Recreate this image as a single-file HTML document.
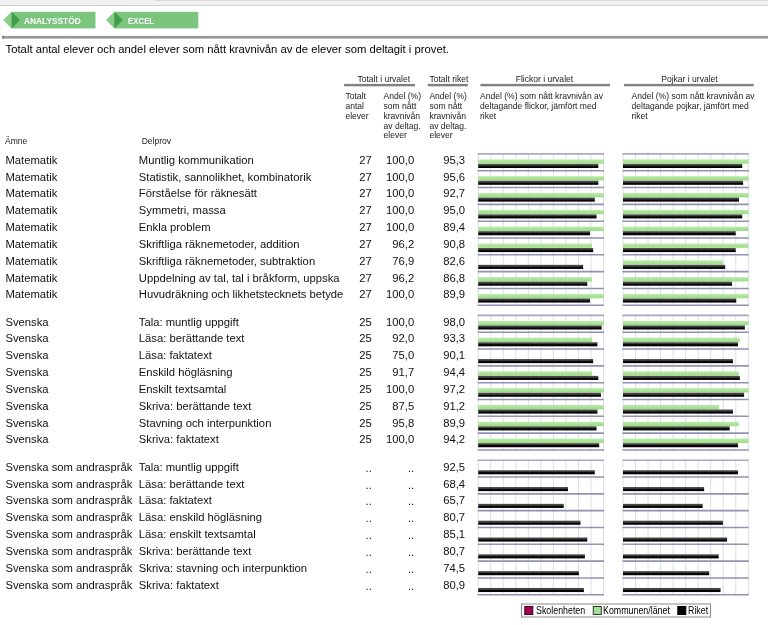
<!DOCTYPE html>
<html lang="sv"><head><meta charset="utf-8"><title>Totalt antal elever</title>
<style>
html,body{margin:0;padding:0;background:#fff;}
body{width:768px;height:625px;position:relative;overflow:hidden;font-family:"Liberation Sans",Arial,sans-serif;color:#000;}
.a{position:absolute;white-space:nowrap;}
.t{font-size:11.25px;line-height:12px;color:#111;}
.r{text-align:right;}
.h{font-size:8.55px;line-height:10px;color:#222;}
.hc{text-align:center;}
.ul{position:absolute;height:2.3px;background:#7f7f7f;top:84px;}
.btn{font-weight:bold;font-size:9.1px;color:#fff;line-height:10px;transform:scaleX(0.87);transform-origin:0 0;}
.lg{font-size:10px;line-height:11px;color:#000;transform:scaleX(0.885);transform-origin:0 0;}
svg{position:absolute;left:0;top:0;}
</style></head><body>

<div class="a" style="left:0;top:0;width:768px;height:5px;background:#f1f1f1;border-bottom:1px solid #d2d2d2"></div>
<div class="a" style="left:155px;top:0;width:613px;height:1px;background:#d9d9d9"></div>
<svg width="768" height="625" viewBox="0 0 768 625">
<defs><linearGradient id="bk" x1="0" y1="0" x2="0" y2="1"><stop offset="0" stop-color="#545454"/><stop offset="0.45" stop-color="#343434"/><stop offset="0.55" stop-color="#0a0a0a"/><stop offset="1" stop-color="#000"/></linearGradient>
<linearGradient id="gr" x1="0" y1="0" x2="0" y2="1"><stop offset="0" stop-color="#b9ebaa"/><stop offset="1" stop-color="#9bdc84"/></linearGradient></defs>
<rect x="2.3" y="35.9" width="766" height="2.7" fill="#999"/>
<rect x="2.3" y="35.9" width="1.8" height="2.7" fill="#7c7c7c"/>
<rect x="344.1" y="83.9" width="70.9" height="2.4" fill="#808080"/>
<rect x="427.7" y="83.9" width="40.1" height="2.4" fill="#808080"/>
<rect x="480.4" y="83.9" width="129.6" height="2.4" fill="#808080"/>
<rect x="623.9" y="83.9" width="129.8" height="2.4" fill="#808080"/>
<polygon points="3.2,20.1 11.5,11.8 11.5,28.4" fill="#8acd8b"/>
<rect x="11.5" y="11.8" width="84.0" height="16.6" fill="#7cc57e"/>
<polygon points="11.5,11.8 20.0,20.1 11.5,28.4" fill="#3f9d4c"/>
<polygon points="106.0,20.1 114.3,11.8 114.3,28.4" fill="#8acd8b"/>
<rect x="114.3" y="11.8" width="84.0" height="16.6" fill="#7cc57e"/>
<polygon points="114.3,11.8 122.8,20.1 114.3,28.4" fill="#3f9d4c"/>
<line x1="478.20" y1="153.90" x2="478.20" y2="305.28" stroke="#dedeea" stroke-width="1"/>
<line x1="490.73" y1="153.90" x2="490.73" y2="305.28" stroke="#dedeea" stroke-width="1"/>
<line x1="503.26" y1="153.90" x2="503.26" y2="305.28" stroke="#dedeea" stroke-width="1"/>
<line x1="515.79" y1="153.90" x2="515.79" y2="305.28" stroke="#dedeea" stroke-width="1"/>
<line x1="528.32" y1="153.90" x2="528.32" y2="305.28" stroke="#dedeea" stroke-width="1"/>
<line x1="540.85" y1="153.90" x2="540.85" y2="305.28" stroke="#dedeea" stroke-width="1"/>
<line x1="553.38" y1="153.90" x2="553.38" y2="305.28" stroke="#dedeea" stroke-width="1"/>
<line x1="565.91" y1="153.90" x2="565.91" y2="305.28" stroke="#dedeea" stroke-width="1"/>
<line x1="578.44" y1="153.90" x2="578.44" y2="305.28" stroke="#dedeea" stroke-width="1"/>
<line x1="590.97" y1="153.90" x2="590.97" y2="305.28" stroke="#dedeea" stroke-width="1"/>
<line x1="603.50" y1="153.90" x2="603.50" y2="305.28" stroke="#dedeea" stroke-width="1"/>
<line x1="623.00" y1="153.90" x2="623.00" y2="305.28" stroke="#dedeea" stroke-width="1"/>
<line x1="635.53" y1="153.90" x2="635.53" y2="305.28" stroke="#dedeea" stroke-width="1"/>
<line x1="648.06" y1="153.90" x2="648.06" y2="305.28" stroke="#dedeea" stroke-width="1"/>
<line x1="660.59" y1="153.90" x2="660.59" y2="305.28" stroke="#dedeea" stroke-width="1"/>
<line x1="673.12" y1="153.90" x2="673.12" y2="305.28" stroke="#dedeea" stroke-width="1"/>
<line x1="685.65" y1="153.90" x2="685.65" y2="305.28" stroke="#dedeea" stroke-width="1"/>
<line x1="698.18" y1="153.90" x2="698.18" y2="305.28" stroke="#dedeea" stroke-width="1"/>
<line x1="710.71" y1="153.90" x2="710.71" y2="305.28" stroke="#dedeea" stroke-width="1"/>
<line x1="723.24" y1="153.90" x2="723.24" y2="305.28" stroke="#dedeea" stroke-width="1"/>
<line x1="735.77" y1="153.90" x2="735.77" y2="305.28" stroke="#dedeea" stroke-width="1"/>
<line x1="748.30" y1="153.90" x2="748.30" y2="305.28" stroke="#dedeea" stroke-width="1"/>
<rect x="478.20" y="159.40" width="125.60" height="4.3" fill="url(#gr)"/>
<rect x="478.20" y="163.90" width="120.11" height="4.1" fill="url(#bk)"/>
<rect x="623.00" y="159.40" width="125.60" height="4.3" fill="url(#gr)"/>
<rect x="623.00" y="163.90" width="119.23" height="4.1" fill="url(#bk)"/>
<rect x="478.20" y="176.22" width="125.60" height="4.3" fill="url(#gr)"/>
<rect x="478.20" y="180.72" width="120.11" height="4.1" fill="url(#bk)"/>
<rect x="623.00" y="176.22" width="125.60" height="4.3" fill="url(#gr)"/>
<rect x="623.00" y="180.72" width="120.11" height="4.1" fill="url(#bk)"/>
<rect x="478.20" y="193.04" width="125.60" height="4.3" fill="url(#gr)"/>
<rect x="478.20" y="197.54" width="116.60" height="4.1" fill="url(#bk)"/>
<rect x="623.00" y="193.04" width="125.60" height="4.3" fill="url(#gr)"/>
<rect x="623.00" y="197.54" width="115.98" height="4.1" fill="url(#bk)"/>
<rect x="478.20" y="209.86" width="125.60" height="4.3" fill="url(#gr)"/>
<rect x="478.20" y="214.36" width="118.36" height="4.1" fill="url(#bk)"/>
<rect x="623.00" y="209.86" width="125.60" height="4.3" fill="url(#gr)"/>
<rect x="623.00" y="214.36" width="119.23" height="4.1" fill="url(#bk)"/>
<rect x="478.20" y="226.68" width="125.60" height="4.3" fill="url(#gr)"/>
<rect x="478.20" y="231.18" width="111.84" height="4.1" fill="url(#bk)"/>
<rect x="623.00" y="226.68" width="125.60" height="4.3" fill="url(#gr)"/>
<rect x="623.00" y="231.18" width="112.72" height="4.1" fill="url(#bk)"/>
<rect x="478.20" y="243.50" width="113.95" height="4.3" fill="url(#gr)"/>
<rect x="478.20" y="248.00" width="114.97" height="4.1" fill="url(#bk)"/>
<rect x="623.00" y="243.50" width="125.60" height="4.3" fill="url(#gr)"/>
<rect x="623.00" y="248.00" width="112.72" height="4.1" fill="url(#bk)"/>
<rect x="478.20" y="264.82" width="104.95" height="4.1" fill="url(#bk)"/>
<rect x="623.00" y="260.32" width="99.79" height="4.3" fill="url(#gr)"/>
<rect x="623.00" y="264.82" width="102.19" height="4.1" fill="url(#bk)"/>
<rect x="478.20" y="277.14" width="113.95" height="4.3" fill="url(#gr)"/>
<rect x="478.20" y="281.64" width="109.09" height="4.1" fill="url(#bk)"/>
<rect x="623.00" y="277.14" width="125.60" height="4.3" fill="url(#gr)"/>
<rect x="623.00" y="281.64" width="109.09" height="4.1" fill="url(#bk)"/>
<rect x="478.20" y="293.96" width="125.60" height="4.3" fill="url(#gr)"/>
<rect x="478.20" y="298.46" width="111.84" height="4.1" fill="url(#bk)"/>
<rect x="623.00" y="293.96" width="125.60" height="4.3" fill="url(#gr)"/>
<rect x="623.00" y="298.46" width="113.22" height="4.1" fill="url(#bk)"/>
<line x1="477.70" y1="153.90" x2="604.00" y2="153.90" stroke="#a8a8c4" stroke-width="1.6"/>
<line x1="622.50" y1="153.90" x2="748.80" y2="153.90" stroke="#a8a8c4" stroke-width="1.6"/>
<line x1="477.70" y1="170.72" x2="604.00" y2="170.72" stroke="#9292b2" stroke-width="1.6"/>
<line x1="622.50" y1="170.72" x2="748.80" y2="170.72" stroke="#9292b2" stroke-width="1.6"/>
<line x1="477.70" y1="187.54" x2="604.00" y2="187.54" stroke="#9292b2" stroke-width="1.6"/>
<line x1="622.50" y1="187.54" x2="748.80" y2="187.54" stroke="#9292b2" stroke-width="1.6"/>
<line x1="477.70" y1="204.36" x2="604.00" y2="204.36" stroke="#9292b2" stroke-width="1.6"/>
<line x1="622.50" y1="204.36" x2="748.80" y2="204.36" stroke="#9292b2" stroke-width="1.6"/>
<line x1="477.70" y1="221.18" x2="604.00" y2="221.18" stroke="#9292b2" stroke-width="1.6"/>
<line x1="622.50" y1="221.18" x2="748.80" y2="221.18" stroke="#9292b2" stroke-width="1.6"/>
<line x1="477.70" y1="238.00" x2="604.00" y2="238.00" stroke="#9292b2" stroke-width="1.6"/>
<line x1="622.50" y1="238.00" x2="748.80" y2="238.00" stroke="#9292b2" stroke-width="1.6"/>
<line x1="477.70" y1="254.82" x2="604.00" y2="254.82" stroke="#9292b2" stroke-width="1.6"/>
<line x1="622.50" y1="254.82" x2="748.80" y2="254.82" stroke="#9292b2" stroke-width="1.6"/>
<line x1="477.70" y1="271.64" x2="604.00" y2="271.64" stroke="#9292b2" stroke-width="1.6"/>
<line x1="622.50" y1="271.64" x2="748.80" y2="271.64" stroke="#9292b2" stroke-width="1.6"/>
<line x1="477.70" y1="288.46" x2="604.00" y2="288.46" stroke="#9292b2" stroke-width="1.6"/>
<line x1="622.50" y1="288.46" x2="748.80" y2="288.46" stroke="#9292b2" stroke-width="1.6"/>
<line x1="477.70" y1="305.28" x2="604.00" y2="305.28" stroke="#9292b2" stroke-width="1.6"/>
<line x1="622.50" y1="305.28" x2="748.80" y2="305.28" stroke="#9292b2" stroke-width="1.6"/>
<line x1="478.20" y1="315.40" x2="478.20" y2="449.96" stroke="#dedeea" stroke-width="1"/>
<line x1="490.73" y1="315.40" x2="490.73" y2="449.96" stroke="#dedeea" stroke-width="1"/>
<line x1="503.26" y1="315.40" x2="503.26" y2="449.96" stroke="#dedeea" stroke-width="1"/>
<line x1="515.79" y1="315.40" x2="515.79" y2="449.96" stroke="#dedeea" stroke-width="1"/>
<line x1="528.32" y1="315.40" x2="528.32" y2="449.96" stroke="#dedeea" stroke-width="1"/>
<line x1="540.85" y1="315.40" x2="540.85" y2="449.96" stroke="#dedeea" stroke-width="1"/>
<line x1="553.38" y1="315.40" x2="553.38" y2="449.96" stroke="#dedeea" stroke-width="1"/>
<line x1="565.91" y1="315.40" x2="565.91" y2="449.96" stroke="#dedeea" stroke-width="1"/>
<line x1="578.44" y1="315.40" x2="578.44" y2="449.96" stroke="#dedeea" stroke-width="1"/>
<line x1="590.97" y1="315.40" x2="590.97" y2="449.96" stroke="#dedeea" stroke-width="1"/>
<line x1="603.50" y1="315.40" x2="603.50" y2="449.96" stroke="#dedeea" stroke-width="1"/>
<line x1="623.00" y1="315.40" x2="623.00" y2="449.96" stroke="#dedeea" stroke-width="1"/>
<line x1="635.53" y1="315.40" x2="635.53" y2="449.96" stroke="#dedeea" stroke-width="1"/>
<line x1="648.06" y1="315.40" x2="648.06" y2="449.96" stroke="#dedeea" stroke-width="1"/>
<line x1="660.59" y1="315.40" x2="660.59" y2="449.96" stroke="#dedeea" stroke-width="1"/>
<line x1="673.12" y1="315.40" x2="673.12" y2="449.96" stroke="#dedeea" stroke-width="1"/>
<line x1="685.65" y1="315.40" x2="685.65" y2="449.96" stroke="#dedeea" stroke-width="1"/>
<line x1="698.18" y1="315.40" x2="698.18" y2="449.96" stroke="#dedeea" stroke-width="1"/>
<line x1="710.71" y1="315.40" x2="710.71" y2="449.96" stroke="#dedeea" stroke-width="1"/>
<line x1="723.24" y1="315.40" x2="723.24" y2="449.96" stroke="#dedeea" stroke-width="1"/>
<line x1="735.77" y1="315.40" x2="735.77" y2="449.96" stroke="#dedeea" stroke-width="1"/>
<line x1="748.30" y1="315.40" x2="748.30" y2="449.96" stroke="#dedeea" stroke-width="1"/>
<rect x="478.20" y="320.90" width="125.60" height="4.3" fill="url(#gr)"/>
<rect x="478.20" y="325.40" width="123.49" height="4.1" fill="url(#bk)"/>
<rect x="623.00" y="320.90" width="125.60" height="4.3" fill="url(#gr)"/>
<rect x="623.00" y="325.40" width="121.87" height="4.1" fill="url(#bk)"/>
<rect x="478.20" y="337.72" width="113.95" height="4.3" fill="url(#gr)"/>
<rect x="478.20" y="342.22" width="119.23" height="4.1" fill="url(#bk)"/>
<rect x="623.00" y="337.72" width="116.70" height="4.3" fill="url(#gr)"/>
<rect x="623.00" y="342.22" width="114.97" height="4.1" fill="url(#bk)"/>
<rect x="478.20" y="359.04" width="114.97" height="4.1" fill="url(#bk)"/>
<rect x="623.00" y="359.04" width="109.96" height="4.1" fill="url(#bk)"/>
<rect x="478.20" y="371.36" width="113.95" height="4.3" fill="url(#gr)"/>
<rect x="478.20" y="375.86" width="120.11" height="4.1" fill="url(#bk)"/>
<rect x="623.00" y="371.36" width="115.83" height="4.3" fill="url(#gr)"/>
<rect x="623.00" y="375.86" width="116.85" height="4.1" fill="url(#bk)"/>
<rect x="478.20" y="388.18" width="125.60" height="4.3" fill="url(#gr)"/>
<rect x="478.20" y="392.68" width="122.74" height="4.1" fill="url(#bk)"/>
<rect x="623.00" y="388.18" width="125.60" height="4.3" fill="url(#gr)"/>
<rect x="623.00" y="392.68" width="121.11" height="4.1" fill="url(#bk)"/>
<rect x="478.20" y="405.00" width="125.60" height="4.3" fill="url(#gr)"/>
<rect x="478.20" y="409.50" width="119.23" height="4.1" fill="url(#bk)"/>
<rect x="623.00" y="405.00" width="96.15" height="4.3" fill="url(#gr)"/>
<rect x="623.00" y="409.50" width="109.96" height="4.1" fill="url(#bk)"/>
<rect x="478.20" y="421.82" width="125.60" height="4.3" fill="url(#gr)"/>
<rect x="478.20" y="426.32" width="118.36" height="4.1" fill="url(#bk)"/>
<rect x="623.00" y="421.82" width="115.83" height="4.3" fill="url(#gr)"/>
<rect x="623.00" y="426.32" width="106.70" height="4.1" fill="url(#bk)"/>
<rect x="478.20" y="438.64" width="125.60" height="4.3" fill="url(#gr)"/>
<rect x="478.20" y="443.14" width="120.99" height="4.1" fill="url(#bk)"/>
<rect x="623.00" y="438.64" width="125.60" height="4.3" fill="url(#gr)"/>
<rect x="623.00" y="443.14" width="114.97" height="4.1" fill="url(#bk)"/>
<line x1="477.70" y1="315.40" x2="604.00" y2="315.40" stroke="#a8a8c4" stroke-width="1.6"/>
<line x1="622.50" y1="315.40" x2="748.80" y2="315.40" stroke="#a8a8c4" stroke-width="1.6"/>
<line x1="477.70" y1="332.22" x2="604.00" y2="332.22" stroke="#9292b2" stroke-width="1.6"/>
<line x1="622.50" y1="332.22" x2="748.80" y2="332.22" stroke="#9292b2" stroke-width="1.6"/>
<line x1="477.70" y1="349.04" x2="604.00" y2="349.04" stroke="#9292b2" stroke-width="1.6"/>
<line x1="622.50" y1="349.04" x2="748.80" y2="349.04" stroke="#9292b2" stroke-width="1.6"/>
<line x1="477.70" y1="365.86" x2="604.00" y2="365.86" stroke="#9292b2" stroke-width="1.6"/>
<line x1="622.50" y1="365.86" x2="748.80" y2="365.86" stroke="#9292b2" stroke-width="1.6"/>
<line x1="477.70" y1="382.68" x2="604.00" y2="382.68" stroke="#9292b2" stroke-width="1.6"/>
<line x1="622.50" y1="382.68" x2="748.80" y2="382.68" stroke="#9292b2" stroke-width="1.6"/>
<line x1="477.70" y1="399.50" x2="604.00" y2="399.50" stroke="#9292b2" stroke-width="1.6"/>
<line x1="622.50" y1="399.50" x2="748.80" y2="399.50" stroke="#9292b2" stroke-width="1.6"/>
<line x1="477.70" y1="416.32" x2="604.00" y2="416.32" stroke="#9292b2" stroke-width="1.6"/>
<line x1="622.50" y1="416.32" x2="748.80" y2="416.32" stroke="#9292b2" stroke-width="1.6"/>
<line x1="477.70" y1="433.14" x2="604.00" y2="433.14" stroke="#9292b2" stroke-width="1.6"/>
<line x1="622.50" y1="433.14" x2="748.80" y2="433.14" stroke="#9292b2" stroke-width="1.6"/>
<line x1="477.70" y1="449.96" x2="604.00" y2="449.96" stroke="#9292b2" stroke-width="1.6"/>
<line x1="622.50" y1="449.96" x2="748.80" y2="449.96" stroke="#9292b2" stroke-width="1.6"/>
<line x1="478.20" y1="460.20" x2="478.20" y2="594.76" stroke="#dedeea" stroke-width="1"/>
<line x1="490.73" y1="460.20" x2="490.73" y2="594.76" stroke="#dedeea" stroke-width="1"/>
<line x1="503.26" y1="460.20" x2="503.26" y2="594.76" stroke="#dedeea" stroke-width="1"/>
<line x1="515.79" y1="460.20" x2="515.79" y2="594.76" stroke="#dedeea" stroke-width="1"/>
<line x1="528.32" y1="460.20" x2="528.32" y2="594.76" stroke="#dedeea" stroke-width="1"/>
<line x1="540.85" y1="460.20" x2="540.85" y2="594.76" stroke="#dedeea" stroke-width="1"/>
<line x1="553.38" y1="460.20" x2="553.38" y2="594.76" stroke="#dedeea" stroke-width="1"/>
<line x1="565.91" y1="460.20" x2="565.91" y2="594.76" stroke="#dedeea" stroke-width="1"/>
<line x1="578.44" y1="460.20" x2="578.44" y2="594.76" stroke="#dedeea" stroke-width="1"/>
<line x1="590.97" y1="460.20" x2="590.97" y2="594.76" stroke="#dedeea" stroke-width="1"/>
<line x1="603.50" y1="460.20" x2="603.50" y2="594.76" stroke="#dedeea" stroke-width="1"/>
<line x1="623.00" y1="460.20" x2="623.00" y2="594.76" stroke="#dedeea" stroke-width="1"/>
<line x1="635.53" y1="460.20" x2="635.53" y2="594.76" stroke="#dedeea" stroke-width="1"/>
<line x1="648.06" y1="460.20" x2="648.06" y2="594.76" stroke="#dedeea" stroke-width="1"/>
<line x1="660.59" y1="460.20" x2="660.59" y2="594.76" stroke="#dedeea" stroke-width="1"/>
<line x1="673.12" y1="460.20" x2="673.12" y2="594.76" stroke="#dedeea" stroke-width="1"/>
<line x1="685.65" y1="460.20" x2="685.65" y2="594.76" stroke="#dedeea" stroke-width="1"/>
<line x1="698.18" y1="460.20" x2="698.18" y2="594.76" stroke="#dedeea" stroke-width="1"/>
<line x1="710.71" y1="460.20" x2="710.71" y2="594.76" stroke="#dedeea" stroke-width="1"/>
<line x1="723.24" y1="460.20" x2="723.24" y2="594.76" stroke="#dedeea" stroke-width="1"/>
<line x1="735.77" y1="460.20" x2="735.77" y2="594.76" stroke="#dedeea" stroke-width="1"/>
<line x1="748.30" y1="460.20" x2="748.30" y2="594.76" stroke="#dedeea" stroke-width="1"/>
<rect x="478.20" y="470.20" width="116.60" height="4.1" fill="url(#bk)"/>
<rect x="623.00" y="470.20" width="114.97" height="4.1" fill="url(#bk)"/>
<rect x="478.20" y="487.02" width="89.79" height="4.1" fill="url(#bk)"/>
<rect x="623.00" y="487.02" width="81.14" height="4.1" fill="url(#bk)"/>
<rect x="478.20" y="503.84" width="85.53" height="4.1" fill="url(#bk)"/>
<rect x="623.00" y="503.84" width="79.64" height="4.1" fill="url(#bk)"/>
<rect x="478.20" y="520.66" width="102.32" height="4.1" fill="url(#bk)"/>
<rect x="623.00" y="520.66" width="99.94" height="4.1" fill="url(#bk)"/>
<rect x="478.20" y="537.48" width="109.09" height="4.1" fill="url(#bk)"/>
<rect x="623.00" y="537.48" width="104.07" height="4.1" fill="url(#bk)"/>
<rect x="478.20" y="554.30" width="106.70" height="4.1" fill="url(#bk)"/>
<rect x="623.00" y="554.30" width="95.68" height="4.1" fill="url(#bk)"/>
<rect x="478.20" y="571.12" width="100.69" height="4.1" fill="url(#bk)"/>
<rect x="623.00" y="571.12" width="86.16" height="4.1" fill="url(#bk)"/>
<rect x="478.20" y="587.94" width="105.70" height="4.1" fill="url(#bk)"/>
<rect x="623.00" y="587.94" width="97.56" height="4.1" fill="url(#bk)"/>
<line x1="477.70" y1="460.20" x2="604.00" y2="460.20" stroke="#a8a8c4" stroke-width="1.6"/>
<line x1="622.50" y1="460.20" x2="748.80" y2="460.20" stroke="#a8a8c4" stroke-width="1.6"/>
<line x1="477.70" y1="477.02" x2="604.00" y2="477.02" stroke="#9292b2" stroke-width="1.6"/>
<line x1="622.50" y1="477.02" x2="748.80" y2="477.02" stroke="#9292b2" stroke-width="1.6"/>
<line x1="477.70" y1="493.84" x2="604.00" y2="493.84" stroke="#9292b2" stroke-width="1.6"/>
<line x1="622.50" y1="493.84" x2="748.80" y2="493.84" stroke="#9292b2" stroke-width="1.6"/>
<line x1="477.70" y1="510.66" x2="604.00" y2="510.66" stroke="#9292b2" stroke-width="1.6"/>
<line x1="622.50" y1="510.66" x2="748.80" y2="510.66" stroke="#9292b2" stroke-width="1.6"/>
<line x1="477.70" y1="527.48" x2="604.00" y2="527.48" stroke="#9292b2" stroke-width="1.6"/>
<line x1="622.50" y1="527.48" x2="748.80" y2="527.48" stroke="#9292b2" stroke-width="1.6"/>
<line x1="477.70" y1="544.30" x2="604.00" y2="544.30" stroke="#9292b2" stroke-width="1.6"/>
<line x1="622.50" y1="544.30" x2="748.80" y2="544.30" stroke="#9292b2" stroke-width="1.6"/>
<line x1="477.70" y1="561.12" x2="604.00" y2="561.12" stroke="#9292b2" stroke-width="1.6"/>
<line x1="622.50" y1="561.12" x2="748.80" y2="561.12" stroke="#9292b2" stroke-width="1.6"/>
<line x1="477.70" y1="577.94" x2="604.00" y2="577.94" stroke="#9292b2" stroke-width="1.6"/>
<line x1="622.50" y1="577.94" x2="748.80" y2="577.94" stroke="#9292b2" stroke-width="1.6"/>
<line x1="477.70" y1="594.76" x2="604.00" y2="594.76" stroke="#9292b2" stroke-width="1.6"/>
<line x1="622.50" y1="594.76" x2="748.80" y2="594.76" stroke="#9292b2" stroke-width="1.6"/>
<rect x="521.5" y="604" width="189" height="13" fill="#fff" stroke="#8a8a8a" stroke-width="1"/>
<rect x="524.8" y="606.5" width="8" height="8" fill="#a50058" stroke="#3a0020" stroke-width="1"/>
<rect x="593.3" y="606.5" width="8" height="8" fill="#a3e093" stroke="#2b3b2b" stroke-width="1"/>
<rect x="677.8" y="606.5" width="8" height="8" fill="#000" stroke="#000" stroke-width="1"/>
</svg>
<div class="a btn" style="left:24.3px;top:16px;transform:scaleX(0.917)">ANALYSSTÖD</div>
<div class="a btn" style="left:127.8px;top:16px;transform:scaleX(0.863)">EXCEL</div>
<div class="a t" style="left:5.6px;top:43px;color:#000;font-size:11.285px">Totalt antal elever och andel elever som nått kravnivån av de elever som deltagit i provet.</div>
<div class="a h" style="left:357.4px;top:74px">Totalt i urvalet</div>
<div class="a h" style="left:429.4px;top:74px">Totalt riket</div>
<div class="a h" style="left:515.7px;top:74px">Flickor i urvalet</div>
<div class="a h" style="left:661.2px;top:74px">Pojkar i urvalet</div>
<div class="a h" style="left:345.4px;top:91px">Totalt</div>
<div class="a h" style="left:345.4px;top:101px">antal</div>
<div class="a h" style="left:345.4px;top:111px">elever</div>
<div class="a h" style="left:383.5px;top:91px">Andel (%)</div>
<div class="a h" style="left:429.4px;top:91px">Andel (%)</div>
<div class="a h" style="left:383.5px;top:101px">som nått</div>
<div class="a h" style="left:429.4px;top:101px">som nått</div>
<div class="a h" style="left:383.5px;top:111px">kravnivån</div>
<div class="a h" style="left:429.4px;top:111px">kravnivån</div>
<div class="a h" style="left:383.5px;top:121px">av deltag.</div>
<div class="a h" style="left:429.4px;top:121px">av deltag.</div>
<div class="a h" style="left:383.5px;top:130px">elever</div>
<div class="a h" style="left:429.4px;top:130px">elever</div>
<div class="a h" style="left:480.0px;top:91px">Andel (%) som nått kravnivån av</div>
<div class="a h" style="left:480.0px;top:101px">deltagande flickor, jämfört med</div>
<div class="a h" style="left:480.0px;top:111px">riket</div>
<div class="a h" style="left:631.5px;top:91px">Andel (%) som nått kravnivån av</div>
<div class="a h" style="left:631.5px;top:101px">deltagande pojkar, jämfört med</div>
<div class="a h" style="left:631.5px;top:111px">riket</div>
<div class="a h" style="left:5.0px;top:136px">Ämne</div>
<div class="a h" style="left:141.7px;top:136px">Delprov</div>
<div class="a t" style="left:5.4px;top:154px">Matematik</div>
<div class="a t" style="left:138.8px;top:154px">Muntlig kommunikation</div>
<div class="a t r" style="left:340px;width:31.8px;top:154px">27</div>
<div class="a t r" style="left:380px;width:34.2px;top:154px">100,0</div>
<div class="a t r" style="left:430px;width:35.1px;top:154px">95,3</div>
<div class="a t" style="left:5.4px;top:171px">Matematik</div>
<div class="a t" style="left:138.8px;top:171px">Statistik, sannolikhet, kombinatorik</div>
<div class="a t r" style="left:340px;width:31.8px;top:171px">27</div>
<div class="a t r" style="left:380px;width:34.2px;top:171px">100,0</div>
<div class="a t r" style="left:430px;width:35.1px;top:171px">95,6</div>
<div class="a t" style="left:5.4px;top:187px">Matematik</div>
<div class="a t" style="left:138.8px;top:187px">Förståelse för räknesätt</div>
<div class="a t r" style="left:340px;width:31.8px;top:187px">27</div>
<div class="a t r" style="left:380px;width:34.2px;top:187px">100,0</div>
<div class="a t r" style="left:430px;width:35.1px;top:187px">92,7</div>
<div class="a t" style="left:5.4px;top:204px">Matematik</div>
<div class="a t" style="left:138.8px;top:204px">Symmetri, massa</div>
<div class="a t r" style="left:340px;width:31.8px;top:204px">27</div>
<div class="a t r" style="left:380px;width:34.2px;top:204px">100,0</div>
<div class="a t r" style="left:430px;width:35.1px;top:204px">95,0</div>
<div class="a t" style="left:5.4px;top:221px">Matematik</div>
<div class="a t" style="left:138.8px;top:221px">Enkla problem</div>
<div class="a t r" style="left:340px;width:31.8px;top:221px">27</div>
<div class="a t r" style="left:380px;width:34.2px;top:221px">100,0</div>
<div class="a t r" style="left:430px;width:35.1px;top:221px">89,4</div>
<div class="a t" style="left:5.4px;top:238px">Matematik</div>
<div class="a t" style="left:138.8px;top:238px">Skriftliga räknemetoder, addition</div>
<div class="a t r" style="left:340px;width:31.8px;top:238px">27</div>
<div class="a t r" style="left:380px;width:34.2px;top:238px">96,2</div>
<div class="a t r" style="left:430px;width:35.1px;top:238px">90,8</div>
<div class="a t" style="left:5.4px;top:255px">Matematik</div>
<div class="a t" style="left:138.8px;top:255px">Skriftliga räknemetoder, subtraktion</div>
<div class="a t r" style="left:340px;width:31.8px;top:255px">27</div>
<div class="a t r" style="left:380px;width:34.2px;top:255px">76,9</div>
<div class="a t r" style="left:430px;width:35.1px;top:255px">82,6</div>
<div class="a t" style="left:5.4px;top:272px">Matematik</div>
<div class="a t" style="left:138.8px;top:272px">Uppdelning av tal, tal i bråkform, uppska</div>
<div class="a t r" style="left:340px;width:31.8px;top:272px">27</div>
<div class="a t r" style="left:380px;width:34.2px;top:272px">96,2</div>
<div class="a t r" style="left:430px;width:35.1px;top:272px">86,8</div>
<div class="a t" style="left:5.4px;top:288px">Matematik</div>
<div class="a t" style="left:138.8px;top:288px">Huvudräkning och likhetstecknets betyde</div>
<div class="a t r" style="left:340px;width:31.8px;top:288px">27</div>
<div class="a t r" style="left:380px;width:34.2px;top:288px">100,0</div>
<div class="a t r" style="left:430px;width:35.1px;top:288px">89,9</div>
<div class="a t" style="left:5.4px;top:316px">Svenska</div>
<div class="a t" style="left:138.8px;top:316px">Tala: muntlig uppgift</div>
<div class="a t r" style="left:340px;width:31.8px;top:316px">25</div>
<div class="a t r" style="left:380px;width:34.2px;top:316px">100,0</div>
<div class="a t r" style="left:430px;width:35.1px;top:316px">98,0</div>
<div class="a t" style="left:5.4px;top:332px">Svenska</div>
<div class="a t" style="left:138.8px;top:332px">Läsa: berättande text</div>
<div class="a t r" style="left:340px;width:31.8px;top:332px">25</div>
<div class="a t r" style="left:380px;width:34.2px;top:332px">92,0</div>
<div class="a t r" style="left:430px;width:35.1px;top:332px">93,3</div>
<div class="a t" style="left:5.4px;top:349px">Svenska</div>
<div class="a t" style="left:138.8px;top:349px">Läsa: faktatext</div>
<div class="a t r" style="left:340px;width:31.8px;top:349px">25</div>
<div class="a t r" style="left:380px;width:34.2px;top:349px">75,0</div>
<div class="a t r" style="left:430px;width:35.1px;top:349px">90,1</div>
<div class="a t" style="left:5.4px;top:366px">Svenska</div>
<div class="a t" style="left:138.8px;top:366px">Enskild högläsning</div>
<div class="a t r" style="left:340px;width:31.8px;top:366px">25</div>
<div class="a t r" style="left:380px;width:34.2px;top:366px">91,7</div>
<div class="a t r" style="left:430px;width:35.1px;top:366px">94,4</div>
<div class="a t" style="left:5.4px;top:383px">Svenska</div>
<div class="a t" style="left:138.8px;top:383px">Enskilt textsamtal</div>
<div class="a t r" style="left:340px;width:31.8px;top:383px">25</div>
<div class="a t r" style="left:380px;width:34.2px;top:383px">100,0</div>
<div class="a t r" style="left:430px;width:35.1px;top:383px">97,2</div>
<div class="a t" style="left:5.4px;top:400px">Svenska</div>
<div class="a t" style="left:138.8px;top:400px">Skriva: berättande text</div>
<div class="a t r" style="left:340px;width:31.8px;top:400px">25</div>
<div class="a t r" style="left:380px;width:34.2px;top:400px">87,5</div>
<div class="a t r" style="left:430px;width:35.1px;top:400px">91,2</div>
<div class="a t" style="left:5.4px;top:417px">Svenska</div>
<div class="a t" style="left:138.8px;top:417px">Stavning och interpunktion</div>
<div class="a t r" style="left:340px;width:31.8px;top:417px">25</div>
<div class="a t r" style="left:380px;width:34.2px;top:417px">95,8</div>
<div class="a t r" style="left:430px;width:35.1px;top:417px">89,9</div>
<div class="a t" style="left:5.4px;top:433px">Svenska</div>
<div class="a t" style="left:138.8px;top:433px">Skriva: faktatext</div>
<div class="a t r" style="left:340px;width:31.8px;top:433px">25</div>
<div class="a t r" style="left:380px;width:34.2px;top:433px">100,0</div>
<div class="a t r" style="left:430px;width:35.1px;top:433px">94,2</div>
<div class="a t" style="left:5.4px;top:461px">Svenska som andraspråk</div>
<div class="a t" style="left:138.8px;top:461px">Tala: muntlig uppgift</div>
<div class="a t r" style="left:340px;width:31.8px;top:462px">..</div>
<div class="a t r" style="left:380px;width:34.2px;top:462px">..</div>
<div class="a t r" style="left:430px;width:35.1px;top:461px">92,5</div>
<div class="a t" style="left:5.4px;top:478px">Svenska som andraspråk</div>
<div class="a t" style="left:138.8px;top:478px">Läsa: berättande text</div>
<div class="a t r" style="left:340px;width:31.8px;top:479px">..</div>
<div class="a t r" style="left:380px;width:34.2px;top:479px">..</div>
<div class="a t r" style="left:430px;width:35.1px;top:478px">68,4</div>
<div class="a t" style="left:5.4px;top:494px">Svenska som andraspråk</div>
<div class="a t" style="left:138.8px;top:494px">Läsa: faktatext</div>
<div class="a t r" style="left:340px;width:31.8px;top:495px">..</div>
<div class="a t r" style="left:380px;width:34.2px;top:495px">..</div>
<div class="a t r" style="left:430px;width:35.1px;top:494px">65,7</div>
<div class="a t" style="left:5.4px;top:511px">Svenska som andraspråk</div>
<div class="a t" style="left:138.8px;top:511px">Läsa: enskild högläsning</div>
<div class="a t r" style="left:340px;width:31.8px;top:512px">..</div>
<div class="a t r" style="left:380px;width:34.2px;top:512px">..</div>
<div class="a t r" style="left:430px;width:35.1px;top:511px">80,7</div>
<div class="a t" style="left:5.4px;top:528px">Svenska som andraspråk</div>
<div class="a t" style="left:138.8px;top:528px">Läsa: enskilt textsamtal</div>
<div class="a t r" style="left:340px;width:31.8px;top:529px">..</div>
<div class="a t r" style="left:380px;width:34.2px;top:529px">..</div>
<div class="a t r" style="left:430px;width:35.1px;top:528px">85,1</div>
<div class="a t" style="left:5.4px;top:545px">Svenska som andraspråk</div>
<div class="a t" style="left:138.8px;top:545px">Skriva: berättande text</div>
<div class="a t r" style="left:340px;width:31.8px;top:546px">..</div>
<div class="a t r" style="left:380px;width:34.2px;top:546px">..</div>
<div class="a t r" style="left:430px;width:35.1px;top:545px">80,7</div>
<div class="a t" style="left:5.4px;top:562px">Svenska som andraspråk</div>
<div class="a t" style="left:138.8px;top:562px">Skriva: stavning och interpunktion</div>
<div class="a t r" style="left:340px;width:31.8px;top:563px">..</div>
<div class="a t r" style="left:380px;width:34.2px;top:563px">..</div>
<div class="a t r" style="left:430px;width:35.1px;top:562px">74,5</div>
<div class="a t" style="left:5.4px;top:579px">Svenska som andraspråk</div>
<div class="a t" style="left:138.8px;top:579px">Skriva: faktatext</div>
<div class="a t r" style="left:340px;width:31.8px;top:580px">..</div>
<div class="a t r" style="left:380px;width:34.2px;top:580px">..</div>
<div class="a t r" style="left:430px;width:35.1px;top:579px">80,9</div>
<div class="a lg" style="left:535.9px;top:605px">Skolenheten</div>
<div class="a lg" style="left:602.8px;top:605px">Kommunen/länet</div>
<div class="a lg" style="left:687.9px;top:605px">Riket</div>
</body></html>
